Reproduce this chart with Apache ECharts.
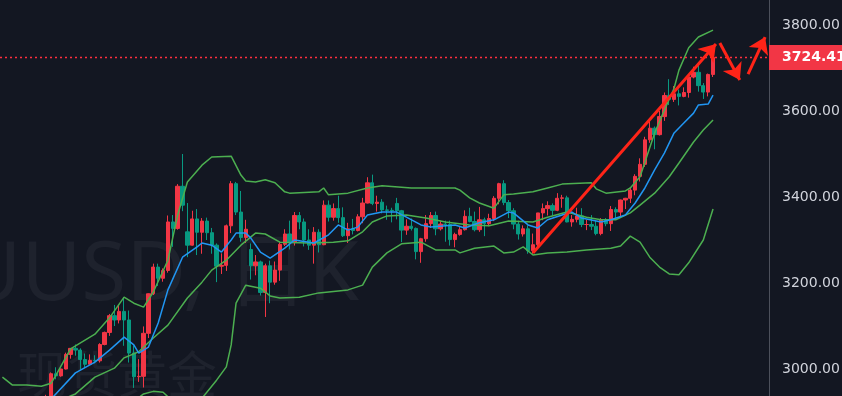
<!DOCTYPE html>
<html><head><meta charset="utf-8">
<script src="https://cdn.jsdelivr.net/npm/echarts@6/dist/echarts.min.js"></script>
<style>html,body{margin:0;padding:0;background:#131722;}#c{width:842px;height:396px;}</style>
</head><body><div id="c"></div>
<script>
// trading days (daily candles)
const dates = [
'2025-02-27','2025-02-28',
'2025-03-03','2025-03-04','2025-03-05','2025-03-06','2025-03-07','2025-03-10','2025-03-11','2025-03-12','2025-03-13','2025-03-14',
'2025-03-17','2025-03-18','2025-03-19','2025-03-20','2025-03-21','2025-03-24','2025-03-25','2025-03-26','2025-03-27','2025-03-28','2025-03-31',
'2025-04-01','2025-04-02','2025-04-03','2025-04-04','2025-04-07','2025-04-08','2025-04-09','2025-04-10','2025-04-11','2025-04-14','2025-04-15',
'2025-04-16','2025-04-17','2025-04-21','2025-04-22','2025-04-23','2025-04-24','2025-04-25','2025-04-28','2025-04-29','2025-04-30',
'2025-05-01','2025-05-02','2025-05-05','2025-05-06','2025-05-07','2025-05-08','2025-05-09','2025-05-12','2025-05-13','2025-05-14','2025-05-15',
'2025-05-16','2025-05-19','2025-05-20','2025-05-21','2025-05-22','2025-05-23','2025-05-26','2025-05-27','2025-05-28','2025-05-29','2025-05-30',
'2025-06-02','2025-06-03','2025-06-04','2025-06-05','2025-06-06','2025-06-09','2025-06-10','2025-06-11','2025-06-12','2025-06-13','2025-06-16',
'2025-06-17','2025-06-18','2025-06-19','2025-06-20','2025-06-23','2025-06-24','2025-06-25','2025-06-26','2025-06-27','2025-06-30',
'2025-07-01','2025-07-02','2025-07-03','2025-07-04','2025-07-07','2025-07-08','2025-07-09','2025-07-10','2025-07-11','2025-07-14','2025-07-15',
'2025-07-16','2025-07-17','2025-07-18','2025-07-21','2025-07-22','2025-07-23','2025-07-24','2025-07-25','2025-07-28','2025-07-29','2025-07-30','2025-07-31',
'2025-08-01','2025-08-04','2025-08-05','2025-08-06','2025-08-07','2025-08-08','2025-08-11','2025-08-12','2025-08-13','2025-08-14','2025-08-15',
'2025-08-18','2025-08-19','2025-08-20','2025-08-21','2025-08-22','2025-08-25','2025-08-26','2025-08-27','2025-08-28','2025-08-29',
'2025-09-01','2025-09-02','2025-09-03','2025-09-04','2025-09-05','2025-09-08','2025-09-09','2025-09-10','2025-09-11','2025-09-12',
'2025-09-15','2025-09-16','2025-09-17','2025-09-18','2025-09-19','2025-09-22'
];
// empty slots to the right of the last candle
const futureDates = ['2025-09-23','2025-09-24','2025-09-25','2025-09-26','2025-09-29','2025-09-30','2025-10-01','2025-10-02','2025-10-03','2025-10-06','2025-10-07'];

// [open, close, low, high]
const candles = [
[2917,2876,2873,2921],[2876,2857,2833,2880],[2858,2893,2857,2896],[2893,2918,2884,2928],[2918,2920,2900,2930],
[2920,2910,2895,2926],[2910,2910,2896,2930],[2910,2888,2880,2915],[2888,2916,2880,2922],[2916,2934,2906,2940],
[2934,2989,2930,2992],[2989,2984,2976,3004],[2984,3000,2982,3001],[3000,3034,2999,3038],[3034,3048,3024,3048],
[3048,3044,3031,3057],[3044,3022,2999,3048],[3022,3011,3002,3036],[3011,3020,3010,3034],[3020,3019,3013,3032],
[3019,3057,3015,3060],[3057,3085,3055,3087],[3085,3124,3077,3128],[3124,3114,3100,3149],[3114,3134,3106,3149],
[3134,3114,3054,3167],[3114,3037,3015,3136],[3037,2982,2956,3055],[2982,2983,2970,3023],[2983,3083,2957,3099],
[3083,3175,3072,3176],[3175,3237,3172,3245],[3237,3211,3193,3245],[3211,3229,3203,3234],[3229,3342,3224,3357],
[3342,3327,3284,3358],[3327,3425,3324,3430],[3425,3381,3367,3500],[3319,3288,3260,3386],[3288,3349,3287,3368],
[3349,3318,3265,3372],[3318,3344,3268,3351],[3344,3317,3300,3352],[3317,3288,3268,3328],[3288,3239,3202,3292],
[3239,3241,3221,3269],[3241,3333,3228,3336],[3333,3431,3316,3437],[3431,3365,3358,3435],[3365,3306,3296,3414],
[3306,3325,3293,3347],[3278,3240,3208,3292],[3240,3249,3218,3265],[3249,3178,3171,3252],[3178,3240,3121,3245],
[3240,3202,3153,3252],[3202,3230,3196,3250],[3230,3290,3205,3295],[3290,3314,3286,3325],[3314,3294,3278,3345],
[3294,3357,3287,3365],[3357,3342,3325,3365],[3342,3300,3285,3350],[3300,3288,3277,3325],[3288,3318,3245,3330],
[3318,3289,3271,3325],[3289,3381,3288,3392],[3381,3353,3343,3392],[3353,3373,3345,3385],[3373,3352,3340,3403],
[3352,3310,3307,3376],[3310,3326,3293,3340],[3326,3322,3313,3349],[3322,3354,3320,3360],[3354,3386,3339,3398],
[3386,3433,3385,3446],[3433,3385,3381,3452],[3385,3388,3366,3403],[3388,3370,3362,3395],[3370,3369,3347,3380],
[3369,3368,3341,3375],[3385,3368,3348,3398],[3368,3323,3295,3370],[3323,3332,3312,3348],[3332,3327,3322,3350],
[3327,3273,3255,3329],[3273,3303,3247,3305],[3303,3338,3296,3358],[3338,3357,3328,3365],[3357,3326,3311,3366],
[3326,3337,3322,3345],[3337,3336,3296,3345],[3336,3301,3287,3345],[3301,3313,3283,3317],[3313,3324,3310,3330],
[3324,3355,3322,3369],[3355,3343,3341,3375],[3343,3324,3320,3366],[3324,3347,3319,3377],[3347,3338,3309,3352],
[3338,3350,3332,3361],[3350,3397,3344,3402],[3397,3431,3383,3433],[3431,3387,3381,3439],[3387,3368,3351,3393],
[3368,3337,3325,3374],[3337,3314,3301,3345],[3314,3326,3308,3334],[3326,3275,3268,3334],[3275,3289,3268,3315],
[3289,3363,3281,3363],[3363,3373,3346,3385],[3373,3380,3357,3390],[3380,3369,3357,3385],[3369,3397,3367,3409],
[3397,3398,3375,3405],[3398,3342,3341,3403],[3342,3348,3331,3358],[3348,3356,3341,3375],[3356,3336,3330,3374],
[3336,3336,3323,3347],[3336,3332,3323,3358],[3332,3315,3311,3345],[3315,3347,3311,3351],[3347,3338,3332,3351],
[3338,3371,3321,3379],[3371,3365,3351,3376],[3365,3393,3352,3394],[3393,3397,3372,3398],[3397,3416,3386,3423],
[3416,3448,3404,3453],[3448,3476,3436,3490],[3476,3533,3470,3540],[3533,3560,3526,3578],[3560,3545,3511,3564],
[3545,3587,3543,3600],[3587,3636,3577,3643],[3636,3627,3614,3674],[3627,3640,3621,3658],[3640,3634,3613,3650],
[3634,3643,3632,3655],[3643,3679,3631,3685],[3679,3690,3676,3703],[3690,3659,3645,3707],[3659,3644,3628,3665],
[3644,3685,3634,3687],[3685,3724.41,3679,3730]
];

// Bollinger band lines and moving average, read as [candle index, price]
const upperBand = [[0,2981],[2,2963],[5,2963],[8,2960],[10,2967],[11,2986],[14,3047],[19,3081],[22,3119],[25,3167],[27,3153],[29,3144],[31,3179],[34,3253],[36,3358],[38,3435],[41,3474],[43,3493],[47,3495],[49,3451],[50,3437],[52,3435],[54,3440],[56,3433],[58,3412],[59,3409],[65,3412],[66,3421],[67,3405],[71,3409],[75,3421],[78,3426],[84,3421],[93,3421],[94,3416],[96,3398],[98,3386],[101,3374],[103,3405],[105,3407],[109,3412],[112,3421],[115,3430],[121,3433],[122,3419],[124,3409],[128,3414],[129,3421],[131,3447],[132,3481],[134,3549],[136,3602],[138,3653],[139,3695],[141,3747],[143,3772],[146,3788]];
const middleBand = [[12,2928],[15,2942],[19,2981],[23,3002],[25,3026],[28,3040],[31,3072],[34,3102],[38,3165],[41,3202],[43,3230],[46,3253],[49,3288],[52,3316],[54,3314],[57,3295],[63,3293],[68,3295],[71,3298],[74,3319],[76,3342],[79,3356],[83,3358],[87,3351],[91,3342],[96,3335],[100,3333],[104,3344],[109,3342],[112,3353],[116,3365],[120,3353],[123,3347],[126,3347],[129,3363],[131,3381],[134,3409],[137,3447],[139,3479],[142,3528],[144,3556],[146,3579]];
const lowerBand = [[27,2925],[29,2942],[31,2948],[33,2946],[35,2925],[38,2895],[41,2932],[44,2974],[46,3005],[47,3056],[48,3153],[50,3195],[53,3188],[55,3170],[57,3165],[61,3167],[65,3177],[71,3184],[74,3195],[76,3237],[79,3270],[82,3291],[86,3295],[89,3277],[93,3277],[94,3270],[97,3281],[101,3286],[103,3270],[105,3272],[107,3284],[109,3265],[112,3270],[116,3272],[120,3277],[125,3281],[127,3286],[129,3309],[131,3295],[133,3260],[135,3237],[137,3221],[139,3219],[141,3247],[144,3300],[146,3372]];
const maLine = [[10,2930],[15,2991],[19,3016],[22,3044],[25,3074],[27,3056],[28,3037],[30,3051],[32,3107],[34,3184],[37,3260],[40,3284],[41,3293],[43,3288],[45,3272],[47,3300],[48,3316],[50,3316],[51,3305],[53,3272],[55,3258],[58,3281],[60,3300],[63,3295],[64,3293],[67,3312],[69,3335],[71,3323],[73,3330],[75,3358],[78,3365],[81,3365],[83,3353],[86,3335],[88,3330],[93,3335],[95,3328],[98,3340],[101,3347],[104,3365],[105,3363],[108,3335],[110,3328],[112,3347],[115,3358],[117,3365],[119,3351],[123,3342],[125,3347],[128,3358],[130,3386],[132,3421],[134,3463],[136,3502],[138,3549],[140,3572],[142,3595],[143,3614],[145,3616],[146,3637]];

const lastPrice = 3724.41;
// hand-drawn arrows: [candle index, price] start -> end
const arrowFrom = [[109.0,3270],[147.4,3758],[153.2,3686]];
const arrowTo   = [[146.6,3756],[151.5,3672],[156.7,3772]];

const watermarkSymbol = 'XAUUSD, 日K';
const watermarkName = '现货黄金';

const chart = echarts.init(document.getElementById('c'));
const slotCount = dates.length + futureDates.length;
const lineSeries = (data, color) => ({
  type:'line', data, showSymbol:false, symbol:'none', silent:true,
  lineStyle:{color, width:1.5}, z:3
});
chart.setOption({
  backgroundColor:'#131722',
  animation:false,
  grid:{left:0, right:73, top:-61, height:516, containLabel:false, outerBoundsMode:'none'},
  xAxis:[
    {type:'category', data:dates.concat(futureDates), boundaryGap:true, show:false},
    {type:'value', min:-0.5, max:slotCount-0.5, show:false}
  ],
  yAxis:{
    type:'value', position:'right', min:2800, max:4000, interval:200,
    axisLine:{show:true, onZero:false, lineStyle:{color:'#4c505b', width:1}},
    axisTick:{show:false}, splitLine:{show:false},
    axisLabel:{color:'#d1d4dc', fontSize:14, fontFamily:'DejaVu Sans', margin:13, formatter:v=>v.toFixed(2)}
  },
  graphic:[
    {type:'text', x:110, y:277, z:0, silent:true,
     style:{text:watermarkSymbol, fill:'#1e222d', fontSize:82, fontFamily:'"Noto Sans", "Noto Sans CJK SC", sans-serif', align:'center', verticalAlign:'middle'}},
    {type:'text', x:117, y:374, z:0, silent:true,
     style:{text:watermarkName, fill:'#1e222d', fontSize:50, fontFamily:'"Noto Sans CJK SC", sans-serif', align:'center', verticalAlign:'middle'}}
  ],
  series:[
    {
      type:'candlestick', data:candles, barWidth:3.8, z:2,
      itemStyle:{color:'#f23645', color0:'#089981', borderColor:'#f23645', borderColor0:'#089981', borderWidth:1},
      markLine:{
        silent:true, animation:false, symbol:['none','none'],
        data:[{yAxis:lastPrice}],
        lineStyle:{color:'#ff2e3f', type:[2,3], width:1.4, opacity:1},
        label:{show:true, position:'end', distance:0, formatter:()=>lastPrice.toFixed(2),
          color:'#ffffff', backgroundColor:'#f23645', padding:[6,13,5,13],
          fontSize:14, fontWeight:'bold', fontFamily:'DejaVu Sans'},
        emphasis:{disabled:true}
      }
    },
    lineSeries(upperBand, '#4caf50'),
    lineSeries(middleBand, '#4caf50'),
    lineSeries(lowerBand, '#4caf50'),
    lineSeries(maLine, '#2196f3'),
    {
      type:'lines', coordinateSystem:'cartesian2d', xAxisIndex:1, yAxisIndex:0, silent:true, z:10,
      data:arrowFrom.map((p,i)=>({coords:[p, arrowTo[i]]})),
      symbol:['none','arrow'], symbolSize:16,
      lineStyle:{color:'#ff2418', width:3, opacity:1}
    }
  ]
});
</script>
</body></html>
